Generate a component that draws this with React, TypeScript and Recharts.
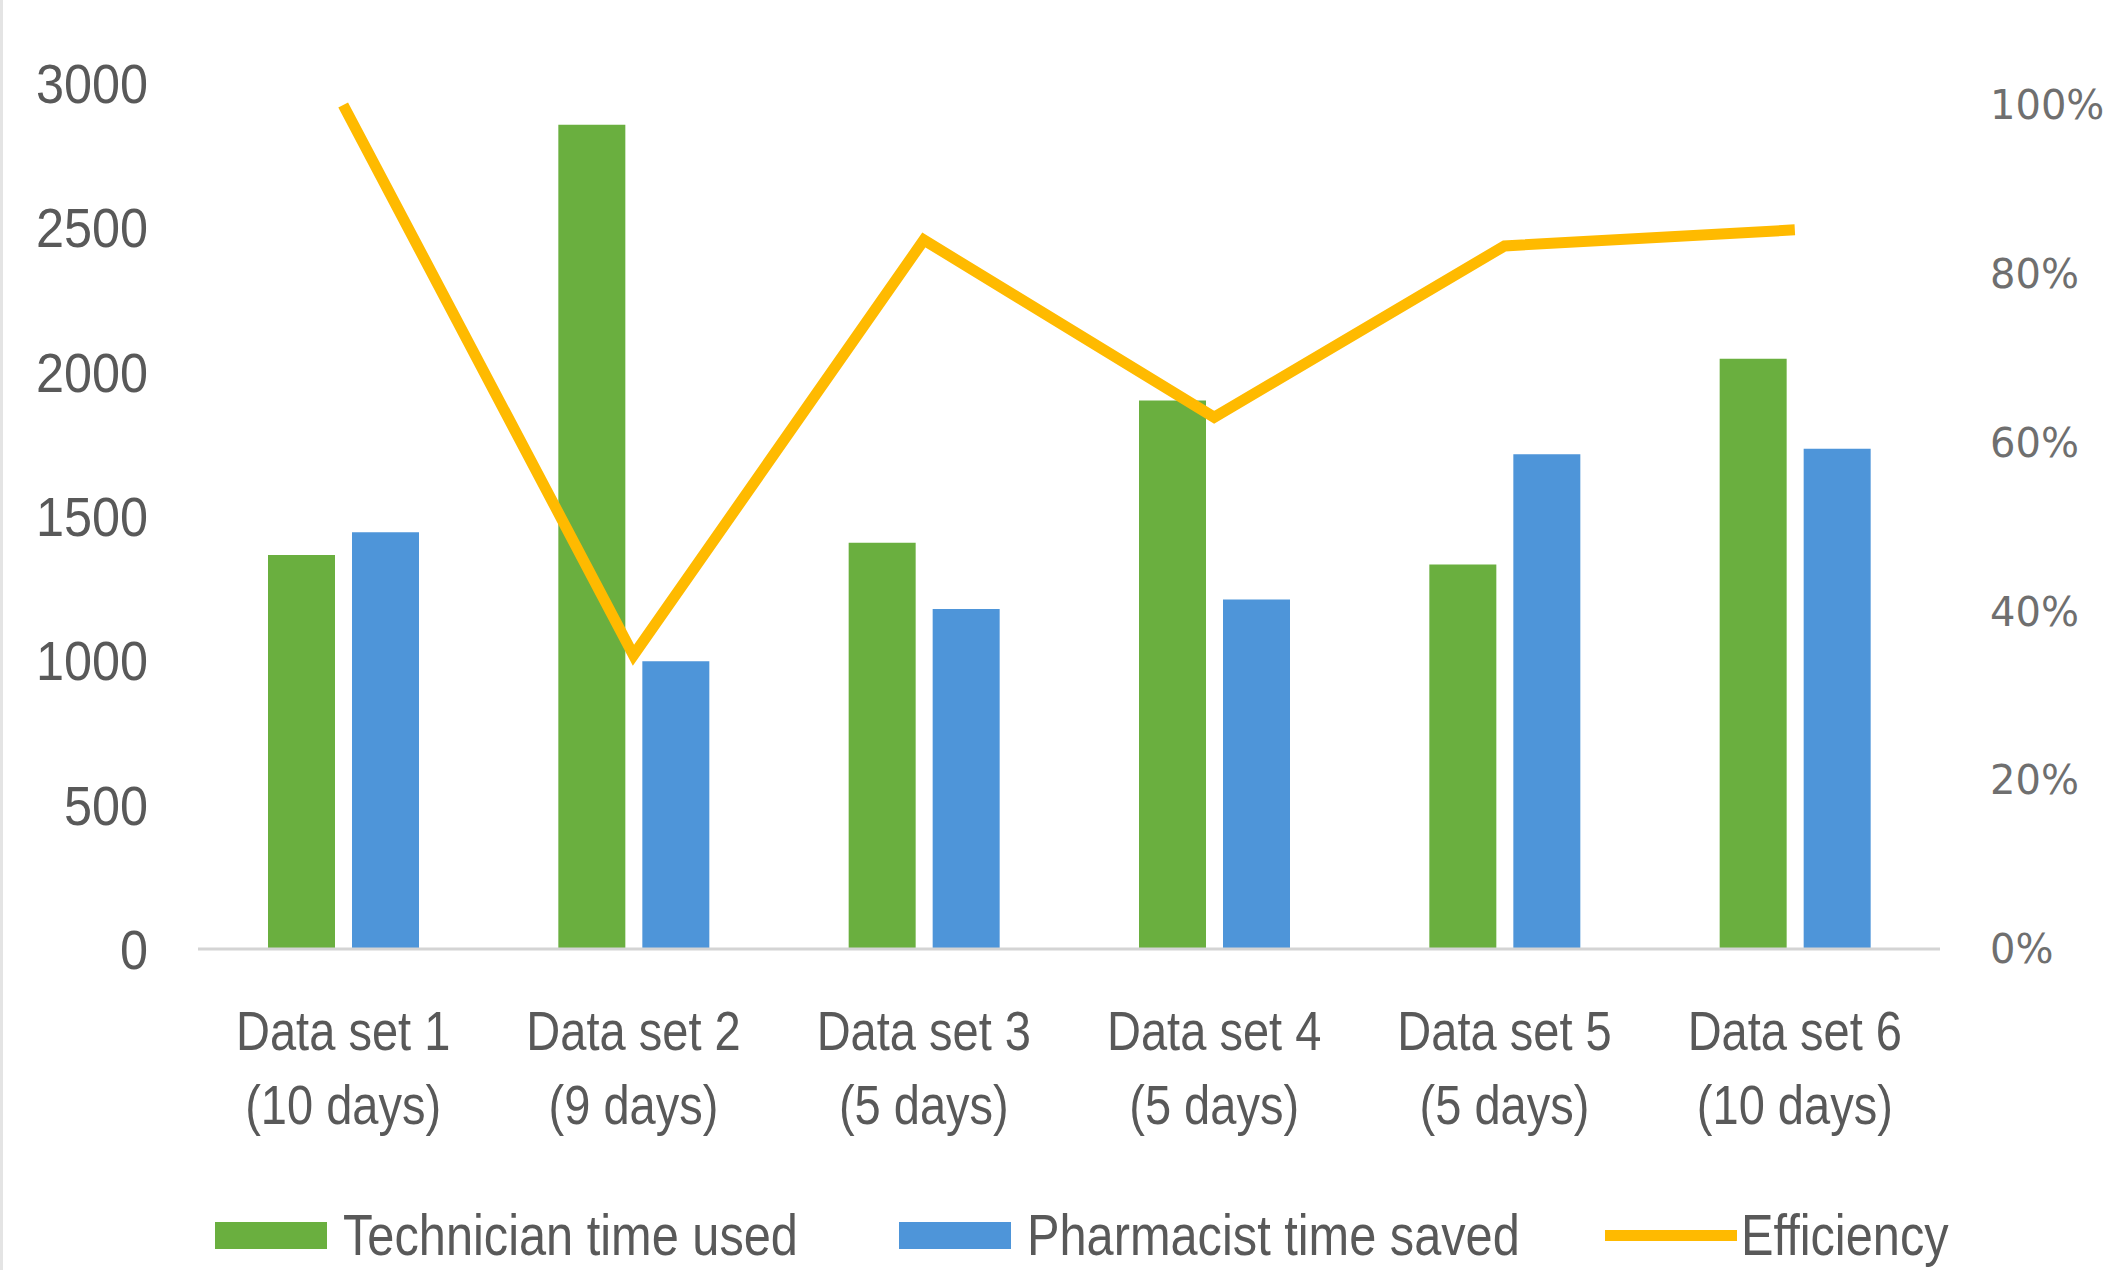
import React from 'react';
import { ComposedChart, Bar, Line, XAxis, YAxis, Legend } from 'recharts';

// categories and values
const setNames = ['Data set 1', 'Data set 2', 'Data set 3', 'Data set 4', 'Data set 5', 'Data set 6'];
const setDays = ['(10 days)', '(9 days)', '(5 days)', '(5 days)', '(5 days)', '(10 days)'];
const technicianTime = [1365, 2855, 1407, 1900, 1332, 2045];
const pharmacistTime = [1444, 997, 1178, 1211, 1714, 1733];
const efficiency = [1.0, 0.348, 0.84, 0.63, 0.833, 0.852];

const leftTicks = [0, 500, 1000, 1500, 2000, 2500, 3000];
const rightTicks = [0, 0.2, 0.4, 0.6, 0.8, 1.0];

const GREEN = '#6aaf3f';
const BLUE = '#4e95d9';
const GOLD = '#ffba00';
const TEXT = '#595959';
const SANS = "'Liberation Sans', Arial, sans-serif";
// no narrow font installed, so squeeze Liberation Sans sideways to get the Calibri look
const SQUEEZE = 0.84;

const data = setNames.map((name, i) => ({
  name,
  days: setDays[i],
  technician: technicianTime[i],
  pharmacist: pharmacistTime[i],
  efficiency: efficiency[i],
}));

const CategoryTick = (props: any) => {
  const { x, y, payload, index } = props;
  return (
    <g transform={`translate(${x},${y}) scale(${SQUEEZE},1)`}>
      <text x={0} y={0} textAnchor="middle" fill={TEXT} fontSize={56} fontFamily={SANS}>
        <tspan x={0} dy={101}>{payload.value}</tspan>
        <tspan x={0} dy={74}>{setDays[index]}</tspan>
      </text>
    </g>
  );
};

const LeftTick = (props: any) => {
  const { x, y, payload } = props;
  return (
    <g transform={`translate(${x},${y}) scale(0.9,1)`}>
      <text x={0} y={0} dy="0.355em" textAnchor="end" fill={TEXT} fontSize={56} fontFamily={SANS}>
        {payload.value}
      </text>
    </g>
  );
};

const legendItems = [
  { label: 'Technician time used', color: GREEN, kind: 'box', textWidth: 458, gapAfter: 98 },
  { label: 'Pharmacist time saved', color: BLUE, kind: 'box', textWidth: 490, gapAfter: 88 },
  { label: 'Efficiency', color: GOLD, kind: 'line', textWidth: 204, gapAfter: 0 },
];

const LegendContent = () => (
  <div style={{ display: 'flex', alignItems: 'center', height: 60, fontFamily: SANS, fontSize: 58, lineHeight: '60px', color: TEXT, whiteSpace: 'nowrap' }}>
    {legendItems.map((it, i) => (
      <div key={i} style={{ display: 'flex', alignItems: 'center', marginRight: it.gapAfter }}>
        <div
          style={{
            width: it.kind === 'box' ? 112 : 132,
            height: it.kind === 'box' ? 27 : 11,
            background: it.color,
            marginRight: it.kind === 'box' ? 16 : 4,
          }}
        />
        <span style={{ display: 'inline-block', width: it.textWidth, transform: `scaleX(${SQUEEZE})`, transformOrigin: 'left center' }}>
          {it.label}
        </span>
      </div>
    ))}
  </div>
);

export default function App() {
  return (
    <div style={{ position: 'absolute', left: 0, top: 0, width: 2111, height: 1270, background: '#fff', overflow: 'hidden' }}>
      <div style={{ position: 'absolute', left: 0, top: 0, width: 3, height: 1270, background: '#e4e4e4' }} />
      <ComposedChart
        width={2111}
        height={1270}
        data={data}
        margin={{ top: 83, right: 0, bottom: 171, left: 0 }}
        barSize={67}
        barGap={17}
      >
        <XAxis
          dataKey="name"
          height={150}
          tickLine={false}
          tickSize={0}
          tickMargin={0}
          axisLine={{ stroke: '#d4d4d4', strokeWidth: 3 }}
          tick={<CategoryTick />}
          interval={0}
        />
        <YAxis
          yAxisId="left"
          width={198}
          domain={[0, 3000]}
          ticks={leftTicks}
          axisLine={false}
          tickLine={false}
          tickSize={0}
          tickMargin={50}
          tick={<LeftTick />}
        />
        <YAxis
          yAxisId="right"
          orientation="right"
          width={171}
          domain={[0, 1.026]}
          ticks={rightTicks}
          axisLine={false}
          tickLine={false}
          tickSize={0}
          tickMargin={50}
          tickFormatter={(v: number) => `${Math.round(v * 100)}%`}
          tick={{ fill: '#6f6f6f', fontSize: 40, fontFamily: "'DejaVu Sans', sans-serif" }}
        />
        <Legend
          layout="horizontal"
          verticalAlign="middle"
          align="center"
          content={<LegendContent />}
          wrapperStyle={{ left: 215, top: 1205, width: 1800, height: 60 }}
        />
        <Bar yAxisId="left" dataKey="technician" name="Technician time used" fill={GREEN} isAnimationActive={false} />
        <Bar yAxisId="left" dataKey="pharmacist" name="Pharmacist time saved" fill={BLUE} isAnimationActive={false} />
        <Line
          yAxisId="right"
          type="linear"
          dataKey="efficiency"
          name="Efficiency"
          stroke={GOLD}
          strokeWidth={11}
          dot={false}
          activeDot={false}
          isAnimationActive={false}
        />
      </ComposedChart>
    </div>
  );
}
